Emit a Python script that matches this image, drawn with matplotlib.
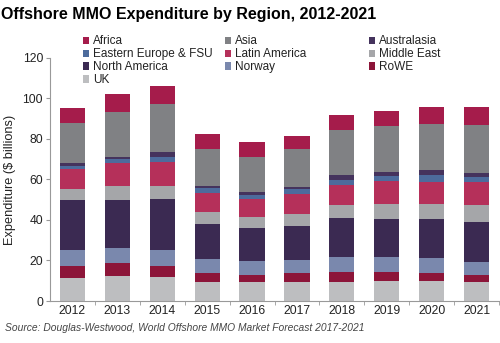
import matplotlib.pyplot as plt
from matplotlib import font_manager
import numpy as np

years = ['2012', '2013', '2014', '2015', '2016', '2017', '2018', '2019', '2020', '2021']

# 从下往上堆叠
uk = [11.2, 12.3, 11.7, 9.4, 9.4, 9.4, 9.4, 9.9, 9.9, 9.4]
rowe = [6.2, 6.5, 5.6, 4.4, 3.4, 4.4, 4.9, 4.4, 3.9, 3.4]
norway = [7.8, 7.5, 7.9, 6.9, 7.0, 6.4, 7.6, 7.4, 7.4, 6.5]
north_america = [24.5, 23.7, 25.3, 17.5, 16.4, 17.0, 18.9, 19.0, 19.5, 19.9]
middle_east = [5.4, 7.0, 6.5, 5.9, 5.3, 5.9, 6.4, 7.4, 7.2, 8.4]
latin_america = [9.9, 11.0, 11.8, 9.4, 8.9, 9.9, 10.2, 11.2, 11.0, 11.3]
eastern_europe = [1.5, 2.1, 2.5, 2.1, 2.1, 2.1, 2.5, 2.4, 3.3, 2.3]
australasia = [1.6, 1.2, 2.1, 1.2, 1.3, 1.4, 2.5, 2.2, 2.3, 2.2]
asia = [19.9, 22.2, 23.7, 18.4, 17.5, 18.4, 21.9, 22.4, 23.0, 23.3]
africa = [7.4, 8.6, 9.1, 7.1, 7.1, 6.4, 7.6, 7.4, 8.0, 8.9]

series = [
    ('UK', uk, '#bdbec0'),
    ('RoWE', rowe, '#8c1539'),
    ('Norway', norway, '#7a88ad'),
    ('North America', north_america, '#3b2a52'),
    ('Middle East', middle_east, '#a5a6a9'),
    ('Latin America', latin_america, '#b5305a'),
    ('Eastern Europe & FSU', eastern_europe, '#4d6b9c'),
    ('Australasia', australasia, '#45335d'),
    ('Asia', asia, '#808184'),
    ('Africa', africa, '#a51c4b'),
]

plt.rcParams['font.family'] = ['Liberation Sans', 'DejaVu Sans']

fig = plt.figure(figsize=(5, 3.43), dpi=100)
ax = fig.add_axes([0.1, 0.1224, 0.898, 0.709])

x = np.arange(len(years))
bottom = np.zeros(len(years))
handles = {}
for name, vals, col in series:
    b = ax.bar(x, vals, width=0.56, bottom=bottom, color=col, label=name, linewidth=0)
    handles[name] = b
    bottom += np.array(vals)

ax.set_xlim(-0.5, 9.5)
ax.set_ylim(0, 120)
ax.set_yticks(range(0, 121, 20))
ax.set_xticks(x)
ax.set_xticklabels(years)
ax.set_xticks(np.arange(0.5, 10, 1), minor=True)
ax.tick_params(axis='x', which='major', length=0, labelsize=8.7, pad=3, colors='#222222')
ax.tick_params(axis='x', which='minor', length=3, color='#999999')
ax.tick_params(axis='y', length=3, color='#999999', labelsize=8.7, labelcolor='#222222', pad=2)
for s in ['top', 'right']:
    ax.spines[s].set_visible(False)
for s in ['left', 'bottom']:
    ax.spines[s].set_color('#999999')
    ax.spines[s].set_linewidth(0.8)
ax.set_ylabel('Expenditure ($ billions)', fontsize=9.2, color='#222222', labelpad=5)

# 图例分三列, 每列单独放置
columns = [['Africa', 'Eastern Europe & FSU', 'North America', 'UK'],
           ['Asia', 'Latin America', 'Norway'],
           ['Australasia', 'Middle East', 'RoWE']]
col_x = [0.166, 0.450, 0.738]
for names, cx in zip(columns, col_x):
    leg = fig.legend([handles[n] for n in names], names, ncol=1,
                     loc='upper left', bbox_to_anchor=(cx, 0.897),
                     frameon=False, fontsize=8.5, handlelength=0.55, handleheight=0.55,
                     handletextpad=0.3, labelspacing=0.08,
                     borderaxespad=0, borderpad=0)
    for t in leg.get_texts():
        t.set_color('#222222')

available = {f.name for f in font_manager.fontManager.ttflist}
if 'Liberation Sans Narrow' in available:
    title_family, title_size = ['Liberation Sans Narrow', 'DejaVu Sans'], 14
else:
    title_family, title_size = ['Liberation Sans', 'DejaVu Sans'], 11.5
fig.text(0.002, 0.98, 'Offshore MMO Expenditure by Region, 2012-2021',
         fontsize=title_size, fontweight='bold', va='top', ha='left',
         family=title_family)
fig.text(0.01, 0.03, 'Source: Douglas-Westwood, World Offshore MMO Market Forecast 2017-2021',
         fontsize=7.4, style='italic', color='#444444', ha='left', va='bottom')

fig.savefig('out.png', dpi=100)
